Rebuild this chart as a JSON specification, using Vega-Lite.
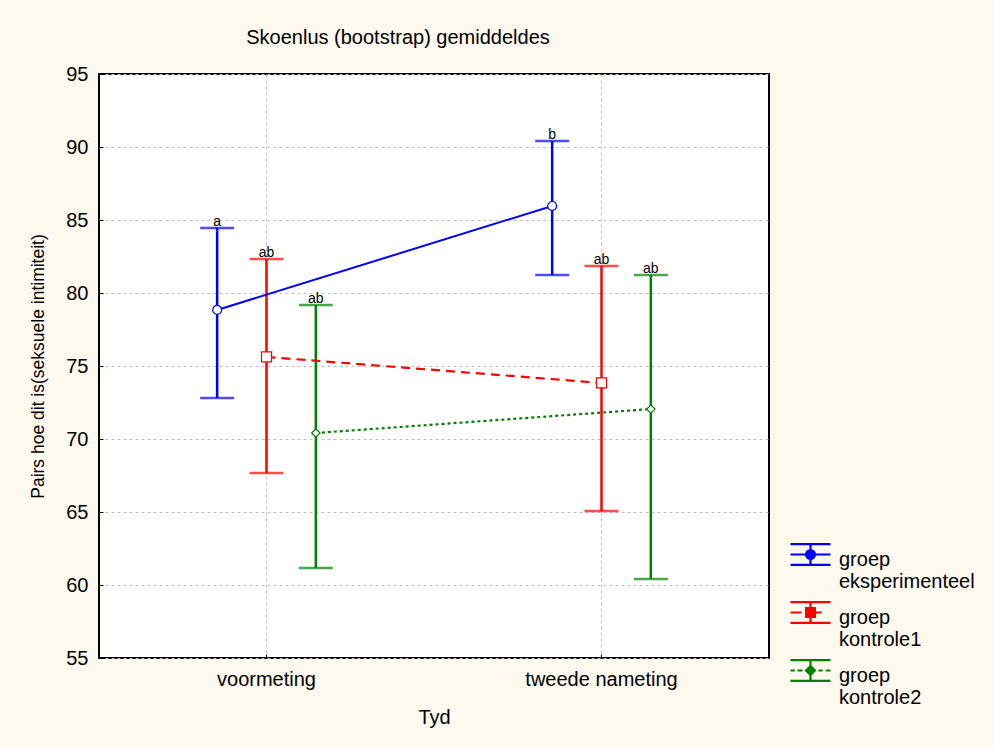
{
  "$schema": "https://vega.github.io/schema/vega-lite/v6.json",
  "width": 670,
  "height": 584,
  "autosize": {"type": "none"},
  "padding": {"left": 99, "top": 74, "right": 225, "bottom": 91},
  "background": "#fdf9ef",
  "title": {"text": "Skoenlus (bootstrap) gemiddeldes", "fontSize": 20, "font": "Liberation Sans", "fontWeight": "normal", "color": "#000", "anchor": "middle", "dx": -36, "offset": 16},
  "config": {
    "view": {"fill": "white", "stroke": "black", "strokeWidth": 2},
    "font": "Liberation Sans",
    "axis": {"domain": false, "gridColor": "#c0c0c0", "gridDash": [3, 3], "gridWidth": 1, "tickColor": "black", "labelColor": "black", "titleColor": "black", "labelFontSize": 20, "titleFontSize": 20, "titleFontWeight": "normal", "labelFont": "Liberation Sans", "titleFont": "Liberation Sans"}
  },
  "data": {"values": [
    {"time": "voormeting", "group": "groep eksperimenteel", "mean": 78.84, "lo": 72.81, "hi": 84.45, "letter": "a"},
    {"time": "tweede nameting", "group": "groep eksperimenteel", "mean": 85.96, "lo": 81.23, "hi": 90.41, "letter": "b"},
    {"time": "voormeting", "group": "groep kontrole1", "mean": 75.62, "lo": 67.67, "hi": 82.33, "letter": "ab"},
    {"time": "tweede nameting", "group": "groep kontrole1", "mean": 73.84, "lo": 65.07, "hi": 81.85, "letter": "ab"},
    {"time": "voormeting", "group": "groep kontrole2", "mean": 70.41, "lo": 61.16, "hi": 79.18, "letter": "ab"},
    {"time": "tweede nameting", "group": "groep kontrole2", "mean": 72.05, "lo": 60.41, "hi": 81.23, "letter": "ab"}
  ]},
  "encoding": {
    "x": {"field": "time", "type": "nominal", "sort": ["voormeting", "tweede nameting"],
          "scale": {"type": "band", "paddingInner": 0, "paddingOuter": 0},
          "axis": {"title": "Tyd", "labelAngle": 0, "grid": true, "tickSize": -4, "labelPadding": 15, "titlePadding": 18, "bandPosition": 0.5}},
    "xOffset": {"field": "group", "type": "nominal", "sort": ["groep eksperimenteel", "groep kontrole1", "groep kontrole2"],
                "scale": {"type": "band", "range": [93.5, 241.5], "paddingInner": 0, "paddingOuter": 0}}
  },
  "layer": [
    {
      "mark": {"type": "point", "filled": false, "strokeWidth": 2.2, "opacity": 0},
      "encoding": {
        "y": {"field": "mean", "type": "quantitative", "scale": {"domain": [55, 95], "nice": false, "zero": false},
              "axis": {"title": "Pairs hoe dit is(seksuele intimiteit)", "titleFontSize": 17.5, "values": [55, 60, 65, 70, 75, 80, 85, 90, 95], "grid": true, "tickSize": -4, "labelPadding": 15, "titlePadding": 18}},
        "color": {"field": "group", "type": "nominal",
          "scale": {"domain": ["groep eksperimenteel", "groep kontrole1", "groep kontrole2"], "range": ["#0000ff", "#ff0000", "#008000"]},
          "legend": {
            "title": null, "orient": "none", "legendX": 690, "legendY": 470, "padding": 0, "symbolOpacity": 1, "symbolFillColor": "white",
            "symbolSize": 1600, "symbolStrokeWidth": 2.2, "labelFontSize": 20, "labelColor": "black", "labelOffset": 7, "labelBaseline": "alphabetic", "rowPadding": 5, "labelLimit": 300,
            "labelExpr": "split(datum.label, ' ')"
          }},
        "shape": {"field": "group", "type": "nominal",
          "scale": {"domain": ["groep eksperimenteel", "groep kontrole1", "groep kontrole2"],
                    "range": [
                      "M-1,-1.07H1M-1,-0.03H1M0,-1.07V-0.77M0,-0.33V-0.03M-1,-0.55H-0.22M0.22,-0.55H1M-0.22,-0.55A0.22,0.22 0 1,0 0.22,-0.55A0.22,0.22 0 1,0 -0.22,-0.55Z",
                      "M-1,-1.07H1M-1,-0.03H1M0,-1.07V-0.77M0,-0.33V-0.03M-1,-0.55H-0.45M0.25,-0.55H0.55M-0.22,-0.77H0.22V-0.33H-0.22Z",
                      "M-1,-1.07H1M-1,-0.03H1M0,-1.07V-0.77M0,-0.33V-0.03M-1,-0.55H-0.78M-0.65,-0.55H-0.4M0.4,-0.55H0.6M0.78,-0.55H1M0,-0.77L0.22,-0.55L0,-0.33L-0.22,-0.55Z"
                    ]},
          "legend": {
            "title": null, "orient": "none", "legendX": 690, "legendY": 470, "padding": 0, "symbolOpacity": 1, "symbolFillColor": "white",
            "symbolSize": 1600, "symbolStrokeWidth": 2.2, "labelFontSize": 20, "labelColor": "black", "labelOffset": 7, "labelBaseline": "alphabetic", "rowPadding": 5, "labelLimit": 300,
            "labelExpr": "split(datum.label, ' ')"
          }}
      }
    },
    {
      "mark": {"type": "rule", "strokeWidth": 2.5},
      "encoding": {
        "y": {"field": "lo", "type": "quantitative"},
        "y2": {"field": "hi"},
        "color": {"field": "group", "type": "nominal", "legend": null}
      }
    },
    {
      "mark": {"type": "tick", "thickness": 2.5, "size": 34},
      "encoding": {
        "y": {"field": "hi", "type": "quantitative"},
        "color": {"field": "group", "type": "nominal", "legend": null}
      }
    },
    {
      "mark": {"type": "tick", "thickness": 2.5, "size": 34},
      "encoding": {
        "y": {"field": "lo", "type": "quantitative"},
        "color": {"field": "group", "type": "nominal", "legend": null}
      }
    },
    {
      "transform": [{"filter": "datum.group == 'groep eksperimenteel'"}],
      "mark": {"type": "line", "strokeWidth": 2, "color": "#0000ff"},
      "encoding": {"y": {"field": "mean", "type": "quantitative"}}
    },
    {
      "transform": [{"filter": "datum.group == 'groep kontrole1'"}],
      "mark": {"type": "line", "strokeWidth": 2.2, "color": "#ff0000", "strokeDash": [9, 6]},
      "encoding": {"y": {"field": "mean", "type": "quantitative"}}
    },
    {
      "transform": [{"filter": "datum.group == 'groep kontrole2'"}],
      "mark": {"type": "line", "strokeWidth": 2.2, "color": "#008000", "strokeDash": [3, 3]},
      "encoding": {"y": {"field": "mean", "type": "quantitative"}}
    },
    {
      "transform": [{"filter": "datum.group == 'groep eksperimenteel'"}],
      "mark": {"type": "point", "shape": "circle", "filled": true, "fill": "white", "stroke": "#0000ff", "strokeWidth": 1.2, "size": 80, "opacity": 1},
      "encoding": {"y": {"field": "mean", "type": "quantitative"}}
    },
    {
      "transform": [{"filter": "datum.group == 'groep kontrole1'"}],
      "mark": {"type": "point", "shape": "square", "filled": true, "fill": "white", "stroke": "#ff0000", "strokeWidth": 1.2, "size": 100, "opacity": 1},
      "encoding": {"y": {"field": "mean", "type": "quantitative"}}
    },
    {
      "transform": [{"filter": "datum.group == 'groep kontrole2'"}],
      "mark": {"type": "point", "shape": "diamond", "filled": true, "fill": "white", "stroke": "#008000", "strokeWidth": 1.2, "size": 70, "opacity": 1},
      "encoding": {"y": {"field": "mean", "type": "quantitative"}}
    },
    {
      "mark": {"type": "text", "baseline": "bottom", "fontSize": 14, "color": "black", "dy": 1},
      "encoding": {
        "y": {"field": "hi", "type": "quantitative"},
        "text": {"field": "letter"}
      }
    }
  ]
}
